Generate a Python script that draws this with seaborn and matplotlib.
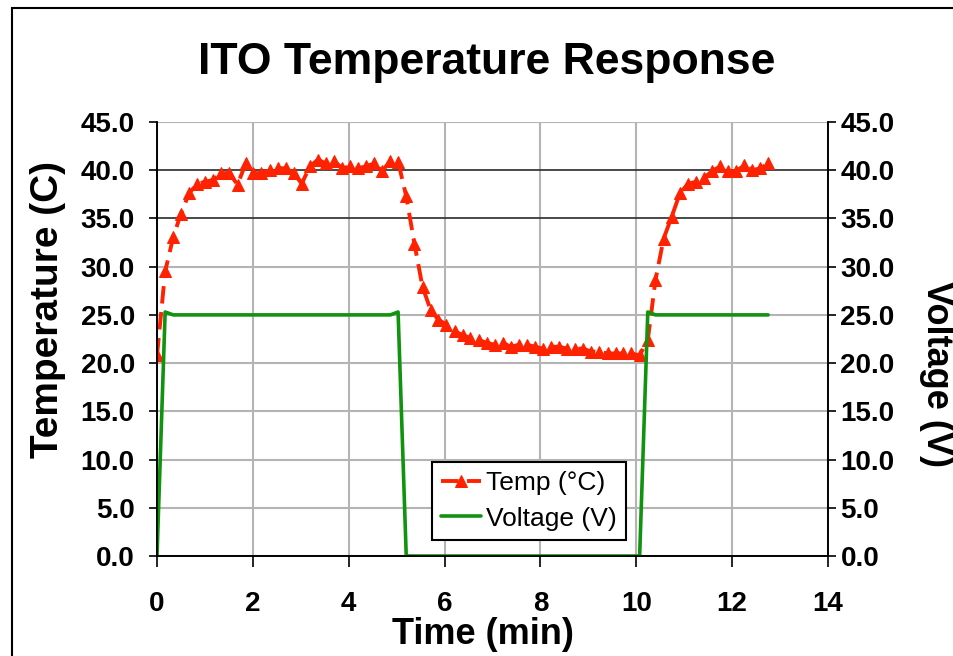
#%% ITO temperature response - recriando o grafico

import matplotlib
matplotlib.use('Agg')
import matplotlib.pyplot as plt
import seaborn as sns
import pandas as pd
from matplotlib.patches import Rectangle

#%% Dados (amostras a cada ~10 s)

tempo = [0.00, 0.17, 0.34, 0.50, 0.67, 0.84, 1.01, 1.17, 1.34, 1.51,
         1.68, 1.85, 2.01, 2.18, 2.35, 2.52, 2.69, 2.85, 3.02, 3.19,
         3.36, 3.52, 3.69, 3.86, 4.03, 4.20, 4.36, 4.53, 4.70, 4.87,
         5.03, 5.20, 5.37, 5.54, 5.71, 5.87, 6.04, 6.21, 6.38, 6.54,
         6.71, 6.88, 7.05, 7.22, 7.38, 7.55, 7.72, 7.89, 8.05, 8.22,
         8.39, 8.56, 8.73, 8.89, 9.06, 9.23, 9.40, 9.57, 9.73, 9.90,
         10.07, 10.24, 10.40, 10.57, 10.74, 10.91, 11.08, 11.24, 11.41, 11.58,
         11.75, 11.91, 12.08, 12.25, 12.42, 12.59, 12.75]

temperatura = [20.8, 29.5, 33.1, 35.5, 37.6, 38.6, 38.8, 39.0, 39.7, 39.7,
               38.5, 40.7, 39.7, 39.7, 40.0, 40.2, 40.2, 39.7, 38.6, 40.4,
               41.1, 40.7, 41.0, 40.2, 40.4, 40.2, 40.4, 40.7, 39.9, 41.0,
               40.9, 37.3, 32.4, 27.9, 25.5, 24.5, 24.0, 23.3, 22.9, 22.6,
               22.4, 22.1, 21.9, 22.1, 21.7, 21.9, 21.9, 21.7, 21.5, 21.7,
               21.7, 21.5, 21.5, 21.5, 21.2, 21.2, 21.0, 21.0, 21.0, 21.0,
               20.8, 22.4, 28.6, 32.9, 35.2, 37.6, 38.6, 38.8, 39.2, 39.9,
               40.4, 39.9, 39.9, 40.5, 40.0, 40.2, 40.7]

tensao = [0.0, 25.3, 25.0, 25.0, 25.0, 25.0, 25.0, 25.0, 25.0, 25.0,
          25.0, 25.0, 25.0, 25.0, 25.0, 25.0, 25.0, 25.0, 25.0, 25.0,
          25.0, 25.0, 25.0, 25.0, 25.0, 25.0, 25.0, 25.0, 25.0, 25.0,
          25.3, 0.0, 0.0, 0.0, 0.0, 0.0, 0.0, 0.0, 0.0, 0.0,
          0.0, 0.0, 0.0, 0.0, 0.0, 0.0, 0.0, 0.0, 0.0, 0.0,
          0.0, 0.0, 0.0, 0.0, 0.0, 0.0, 0.0, 0.0, 0.0, 0.0,
          0.0, 25.3, 25.0, 25.0, 25.0, 25.0, 25.0, 25.0, 25.0, 25.0,
          25.0, 25.0, 25.0, 25.0, 25.0, 25.0, 25.0]

y_ticks = [0, 5, 10, 15, 20, 25, 30, 35, 40, 45]
x_ticks = [0, 2, 4, 6, 8, 10, 12, 14]

df = pd.DataFrame({'tempo': tempo, 'temp': temperatura, 'tensao': tensao})

#%% Estilo

sns.set_theme(style='white')
plt.rcParams['font.family'] = ['Liberation Sans', 'DejaVu Sans']
plt.rcParams['text.color'] = 'black'
plt.rcParams['axes.labelcolor'] = 'black'

vermelho = '#ff2200'
verde = '#109410'

#%% Grafico

fig = plt.figure(figsize=(9.54, 6.56), dpi=100, facecolor='white')
ax = fig.add_axes([157/954, 1 - 556/656, 671/954, 434/656])

sns.lineplot(data=df, x='tempo', y='temp', ax=ax, color=vermelho,
             linestyle=(0, (4.5, 2.2)), linewidth=2.8, marker='^',
             markersize=9, markeredgecolor=vermelho, label='Temp (°C)')

ax2 = ax.twinx()
sns.lineplot(data=df, x='tempo', y='tensao', ax=ax2, color=verde,
             linewidth=2.6, label='Voltage (V)')

for a in (ax, ax2):
    a.set_ylim(0, 45)
    a.set_yticks(y_ticks)
    a.set_yticklabels([f'{v:.1f}' for v in y_ticks])
    a.set_xlim(0, 14)
ax.set_xticks(x_ticks)
ax.set_xticklabels([str(v) for v in x_ticks])

# grade
ax.grid(True, color='#b4b4b4', linewidth=1.5)
for v, linha in zip(y_ticks, ax.get_ygridlines()):
    if v in (35, 40):
        linha.set_color('#3a3a3a')
        linha.set_linewidth(1.3)
ax.set_axisbelow(True)

for a in (ax, ax2):
    a.spines['top'].set_visible(False)
    for s in ('left', 'right', 'bottom'):
        a.spines[s].set_color('black')
        a.spines[s].set_linewidth(1.2)

ax.tick_params(axis='y', direction='out', length=6, width=1.2, pad=10,
               labelsize=20, left=True, colors='black')
ax.tick_params(axis='x', direction='out', length=8, width=1.2, pad=17,
               labelsize=20, bottom=True, colors='black')
ax2.tick_params(axis='y', direction='out', length=6, width=1.2, pad=3,
                labelsize=20, right=True, colors='black')
for lab in ax.get_xticklabels() + ax.get_yticklabels() + ax2.get_yticklabels():
    lab.set_fontweight('bold')

ax.set_xlabel('Time (min)', fontsize=26, fontweight='bold')
ax.set_ylabel('Temperature (C)', fontsize=28, fontweight='bold')
ax2.set_ylabel('Voltage (V)', fontsize=26, fontweight='bold', rotation=270,
               va='bottom')
ax.xaxis.set_label_coords(0.486, -0.14)
ax.yaxis.set_label_coords(-0.135, 0.567)
ax2.yaxis.set_label_coords(1.136, 0.42)

fig.text(0.51, 0.905, 'ITO Temperature Response', fontsize=32,
         fontweight='bold', ha='center', va='center', color='black')

# legenda
ax.get_legend().remove()
h1, l1 = ax.get_legend_handles_labels()
h2, l2 = ax2.get_legend_handles_labels()
leg = ax2.legend(h1 + h2, l1 + l2, loc='lower left',
                 bbox_to_anchor=(0.41, 0.037), fontsize=19, frameon=True,
                 fancybox=False, framealpha=1, edgecolor='black',
                 handlelength=1.5, handletextpad=0.2, borderpad=0.35,
                 labelspacing=0.45, borderaxespad=0)
leg.get_frame().set_linewidth(1.5)

# moldura da figura
fig.add_artist(Rectangle((12/954, -0.1), 1.2, 1.1 - 8/656,
                         transform=fig.transFigure, fill=False,
                         edgecolor='black', linewidth=1.5))

plt.savefig('out.png', dpi=100)
